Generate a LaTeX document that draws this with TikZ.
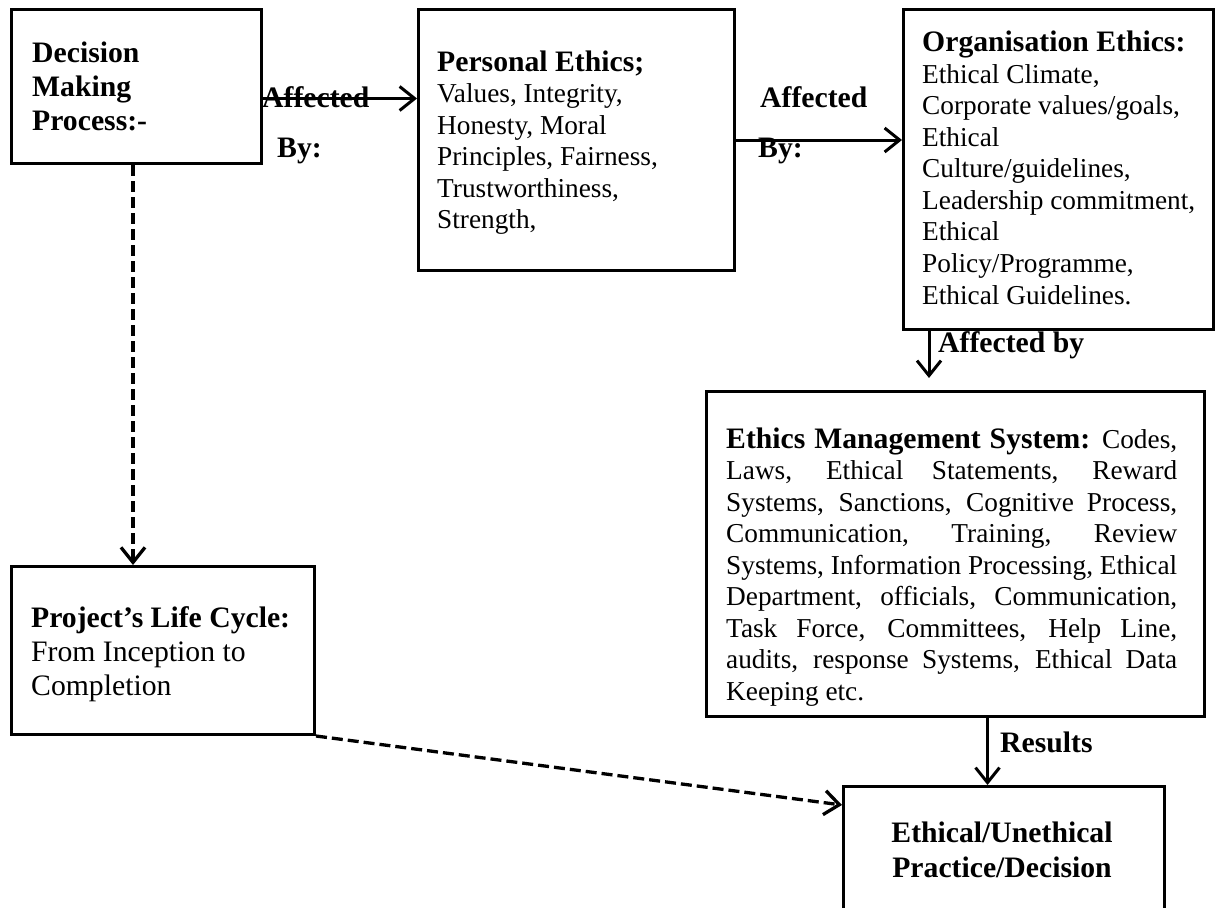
\documentclass[tikz,border=0pt]{standalone}
\usepackage{fontspec}
\setmainfont{Liberation Serif}
\usetikzlibrary{arrows.meta}
\newcommand{\bodyfnt}{\fontsize{27.3}{31.5}\selectfont}
\newcommand{\headfnt}{\fontsize{29.7}{31.5}\selectfont\bfseries}
\newcommand{\bigfnt}{\fontsize{29.7}{34}\selectfont}
\tikzset{
  box/.style={draw, line width=3pt, inner sep=0pt, anchor=north west},
  txt/.style={inner sep=0pt, anchor=base west},
  lbl/.style={inner sep=0pt, anchor=base west, font=\fontsize{29.7}{34}\selectfont\bfseries},
  arr/.style={line width=3pt, -{Straight Barb[length=15pt,width=24pt]}},
  dsh/.style={arr, line width=3.3pt, dash pattern=on 11pt off 5pt}
}
\begin{document}
\begin{tikzpicture}[x=1pt,y=-1pt]
\useasboundingbox (0,0) rectangle (1220,907);
\clip (0,0) rectangle (1220,907);
% boxes
\node[box, minimum width=250pt, minimum height=154pt] (dm) at (10,8) {};
\node[box, minimum width=316pt, minimum height=261pt] (pe) at (417,8) {};
\node[box, minimum width=310pt, minimum height=320pt] (oe) at (902,8) {};
\node[box, minimum width=498pt, minimum height=325pt] (ems) at (705,390) {};
\node[box, minimum width=303pt, minimum height=168pt] (plc) at (10,565) {};
\node[box, minimum width=321pt, minimum height=160pt] (res) at (842,785) {};
% texts
\node[txt] (dmt) at (32,63) {\parbox[t]{220pt}{\raggedright\bigfnt\bfseries Decision\\Making\\Process:-}};
\node[txt] (pet) at (437,71) {\parbox[t]{290pt}{\raggedright\bodyfnt{\headfnt Personal Ethics;}\\Values, Integrity,\\Honesty, Moral\\Principles, Fairness,\\Trustworthiness,\\Strength,}};
\node[txt] (oet) at (922,52) {\parbox[t]{290pt}{\raggedright\bodyfnt{\headfnt Organisation Ethics:}\\Ethical Climate,\\Corporate values/goals,\\Ethical\\Culture/guidelines,\\Leadership commitment,\\Ethical\\Policy/Programme,\\Ethical Guidelines.}};
\node[txt] (emst) at (726,448) {\parbox[t]{451pt}{\bodyfnt
\makebox[451pt][s]{{\headfnt Ethics Management System:} Codes,}\\
\makebox[451pt][s]{Laws, Ethical Statements, Reward}\\
\makebox[451pt][s]{Systems, Sanctions, Cognitive Process,}\\
\makebox[451pt][s]{Communication, Training, Review}\\
\makebox[451pt][s]{Systems, Information Processing, Ethical}\\
\makebox[451pt][s]{Department, officials, Communication,}\\
\makebox[451pt][s]{Task Force, Committees, Help Line,}\\
\makebox[451pt][s]{audits, response Systems, Ethical Data}\\
Keeping etc.}};
\node[txt] (plct) at (31,627) {\parbox[t]{280pt}{\raggedright\bigfnt{\bfseries Project’s Life Cycle:}\\From Inception to\\Completion}};
\node[inner sep=0pt, anchor=base] (rest) at (1002,842) {\parbox[t]{300pt}{\centering\fontsize{29.7}{35}\selectfont\bfseries Ethical/Unethical\\Practice/Decision}};
% connectors
\draw[arr] ([yshift=-12pt]dm.east) -- ([yshift=-12pt]dm.east -| pe.west);
\draw[arr] (pe.east) -- (pe.east -| oe.west);
\draw[arr, shorten >=12pt] ([xshift=27pt]oe.south west) -- ([xshift=27pt]oe.south west |- ems.north);
\draw[arr] ([xshift=32pt]ems.south) -- ([xshift=32pt]ems.south |- res.north);
\draw[dsh] ([xshift=123pt]dm.south west) -- ([xshift=123pt]dm.south west |- plc.north);
\draw[dsh] (plc.south east) -- ([yshift=-20pt]res.north west);
% labels
\node[lbl] (l1a) at (262,107) {Affected};
\node[lbl] (l1b) at (277,157) {By:};
\node[lbl] (l2a) at (760,107) {Affected};
\node[lbl] (l2b) at (758,157) {By:};
\node[lbl] (l3) at (938,352) {Affected by};
\node[lbl] (l4) at (1000,752) {Results};
\end{tikzpicture}
\end{document}
